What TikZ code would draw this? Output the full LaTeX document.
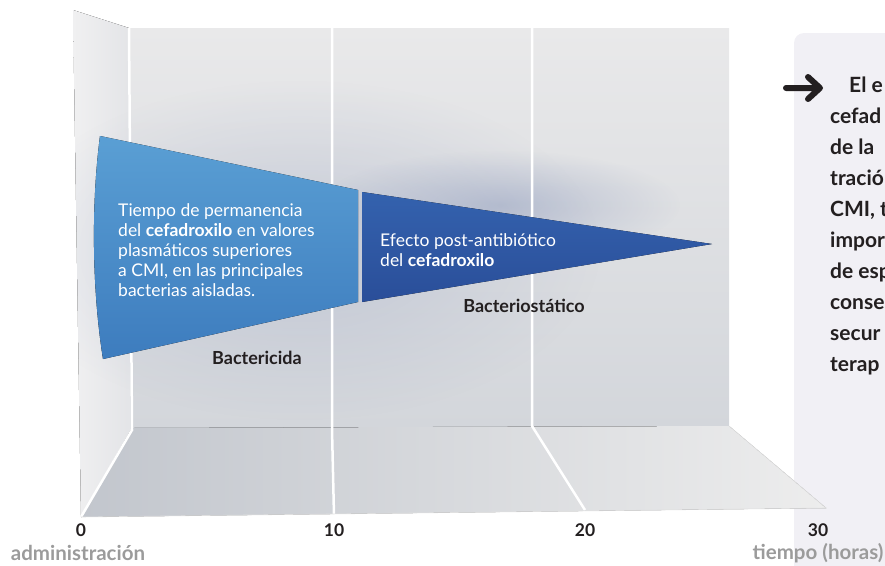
\documentclass[tikz,border=0pt]{standalone}
\usepackage{fontspec}
\setmainfont{Lato}
\usepackage{tikz}
\usetikzlibrary{positioning, fadings}

\definecolor{sideLeft}{HTML}{F0F0F1}
\definecolor{sideRight}{HTML}{E3E4E7}
\definecolor{wallTop}{HTML}{E9E9EA}
\definecolor{wallBot}{HTML}{D3D6DB}
\definecolor{floorDark}{HTML}{C2C6CD}
\definecolor{floorLight}{HTML}{EDEDED}
\definecolor{glowCol}{HTML}{8896BA}
\definecolor{blueLight}{HTML}{5A9FD4}
\definecolor{blueLightDk}{HTML}{3D7CBE}
\definecolor{blueDark}{HTML}{3462AE}
\definecolor{blueDarkDk}{HTML}{2A4E99}
\definecolor{panelCol}{HTML}{F1F0F5}
\definecolor{inkCol}{HTML}{231F20}
\definecolor{labelGray}{HTML}{9B9B9B}

\tikzfading[name=glowfade, inner color=transparent!0, outer color=transparent!100]

\tikzset{
  divider/.style={white, line width=2.5pt},
  rimline/.style={draw=black!12, line width=.6pt},
  bluetext/.style={white, align=left, inner sep=0pt, anchor=north west,
                   font=\fontsize{17.5}{20}\selectfont},
  zonelabel/.style={inkCol, inner sep=0pt, anchor=base,
                    font=\fontsize{18}{20}\bfseries\selectfont},
  ticklabel/.style={inkCol, inner sep=0pt, anchor=base,
                    font=\fontsize{17.5}{20}\bfseries\selectfont},
  axislabel/.style={labelGray, inner sep=0pt, anchor=base,
                    font=\fontsize{20.5}{22}\bfseries\selectfont},
  notetext/.style={inkCol, align=left, inner sep=0pt, anchor=north west,
                   font=\fontsize{21}{31}\bfseries\selectfont},
  notearrow/.style={inkCol, line width=6pt, line cap=round, line join=round}
}

\begin{document}
\begin{tikzpicture}[x=1pt, y=-1pt]
\useasboundingbox (0,0) rectangle (885,565);
\clip (0,0) rectangle (885,565);

% note panel on the right
\fill[panelCol, rounded corners=10pt] (794,33) rectangle (920,600);

% the stage: side wall, back wall and floor
\fill[left color=sideLeft, right color=sideRight] (73,10) -- (129,28) -- (132,430) -- (81,517) -- cycle;
\fill[top color=wallTop, bottom color=wallBot] (130,28) rectangle (729,428);
\fill[left color=floorDark, right color=floorLight] (132,428) -- (729,426) -- (826,508) -- (81,517) -- cycle;
\begin{scope}
  \clip (73,10) -- (129,28) -- (729,28) -- (729,426) -- (826,508) -- (81,517) -- cycle;
  \fill[glowCol, path fading=glowfade, opacity=.3] (300,250) ellipse [x radius=300pt, y radius=170pt];
  \fill[glowCol, path fading=glowfade, opacity=.45] (500,205) ellipse [x radius=180pt, y radius=55pt];
\end{scope}

\draw[divider] (129,28) -- (132,430) -- (81,517);
\draw[divider] (332,28) -- (332,429) -- (334,516);
\draw[divider] (532,28) -- (532,426) -- (585,510);
\draw[rimline] (81,517) -- (826,508) -- (729,426);

% the cone
\fill[top color=blueLight, bottom color=blueLightDk] (100,136) -- (358,190) -- (358,302) -- (103,359)
  .. controls (92,290) and (91,205) .. (100,136) -- cycle;
\fill[top color=blueDark, bottom color=blueDarkDk] (362,192) -- (712,244) -- (362,302) -- cycle;

\node[bluetext] (perm) at (118,203) {Tiempo de permanencia\\del \textbf{cefadroxilo} en valores\\plasmáticos superiores\\a CMI, en las principales\\bacterias aisladas.};
\node[bluetext] (post) at (380,233) {Efecto post-antibiótico\\del \textbf{cefadroxilo}};

\node[zonelabel] (bcida) at (257,364) {Bactericida};
\node[zonelabel] (bstat) at (524,312) {Bacteriostático};

% time axis
\node[ticklabel] (t0)  at (81,536)  {0};
\node[ticklabel] (t10) at (334,536) {10};
\node[ticklabel] (t20) at (585,536) {20};
\node[ticklabel] (t30) at (818,536) {30};
\node[axislabel] (adm)    at (78,560)  {administración};
\node[axislabel] (tiempo) at (818,559) {tiempo (horas)};

% note
\draw[notearrow] (786,88) -- (819,88) (808,77) -- (820,88) -- (808,99);
\node[notetext] (note) at (830,77) {\hspace*{19pt}El e\\cefad\\de la\\tració\\CMI, t\\impor\\de esp\\conse\\secur\\terap};

\end{tikzpicture}
\end{document}
